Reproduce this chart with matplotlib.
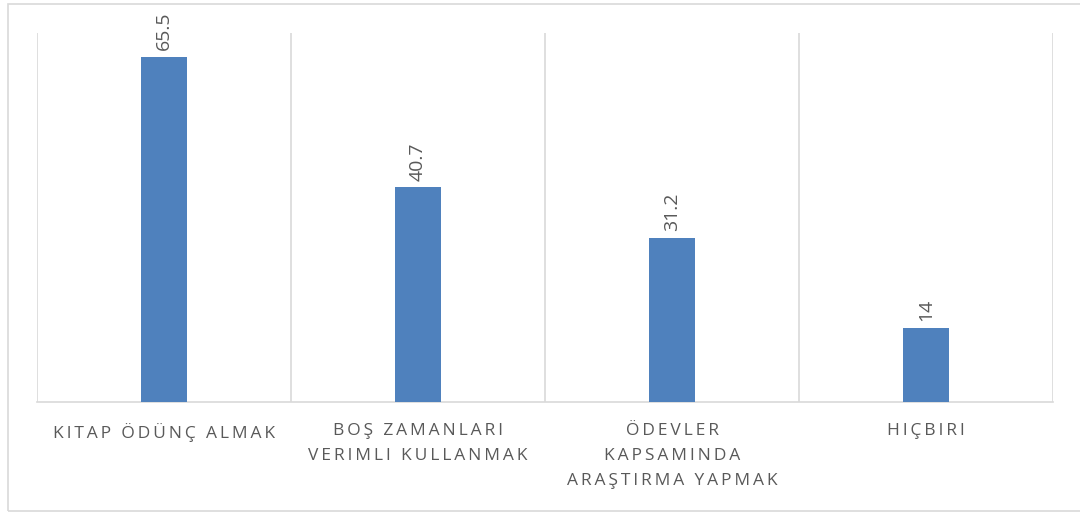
import matplotlib

matplotlib.use("Agg")
import matplotlib.pyplot as plt
import numpy as np

CATEGORIES = ["KITAP ÖDÜNÇ ALMAK", "BOŞ ZAMANLARI\nVERIMLI KULLANMAK",
              "ÖDEVLER\nKAPSAMINDA\nARAŞTIRMA YAPMAK", "HIÇBIRI"]
VALUES = [65.5, 40.7, 31.2, 14]

BAR_COLOR = "#4F81BD"
GRID_COLOR = "#D9D9D9"
TEXT_COLOR = "#595959"


def spaced(label):
    # widen tracking the way the office chart does
    return "\n".join("\u2009".join(line) for line in label.split("\n"))


plt.rcParams["font.family"] = ["Open Sans", "DejaVu Sans"]
fig = plt.figure(figsize=(10.8, 5.13), dpi=100)
ax = fig.add_axes([37 / 1080, 111 / 513, 1016 / 1080, 369 / 513])

x = np.arange(len(CATEGORIES))
bars = ax.bar(x, VALUES, width=0.18, color=BAR_COLOR, zorder=3)
for b, v in zip(bars, VALUES):
    ax.annotate(f"{v:g}", (b.get_x() + b.get_width() / 2, v), xytext=(0, 5),
                textcoords="offset points", rotation=90, ha="center", va="bottom",
                fontsize=14, color=TEXT_COLOR)

ax.set_xlim(-0.5, len(CATEGORIES) - 0.5)
ax.set_ylim(0, 70)
for xb in np.arange(-0.5, len(CATEGORIES), 1.0):
    ax.axvline(xb, color=GRID_COLOR, lw=1.2, zorder=1)
for side in ["top", "left", "right"]:
    ax.spines[side].set_visible(False)
ax.spines["bottom"].set_color(GRID_COLOR)
ax.spines["bottom"].set_linewidth(1.2)
ax.set_yticks([])
ax.set_xticks(x)
ax.set_xticklabels([spaced(c) for c in CATEGORIES], fontsize=12.5, color=TEXT_COLOR,
                   linespacing=1.75, va="top")
ax.tick_params(axis="x", length=0, pad=15)

# chart frame
fig.add_artist(plt.Rectangle((8 / 1080, 2 / 513), 1080, 507 / 513, transform=fig.transFigure,
                             fill=False, edgecolor=GRID_COLOR, lw=1.2))

fig.savefig("out.png", dpi=100, facecolor="white")
